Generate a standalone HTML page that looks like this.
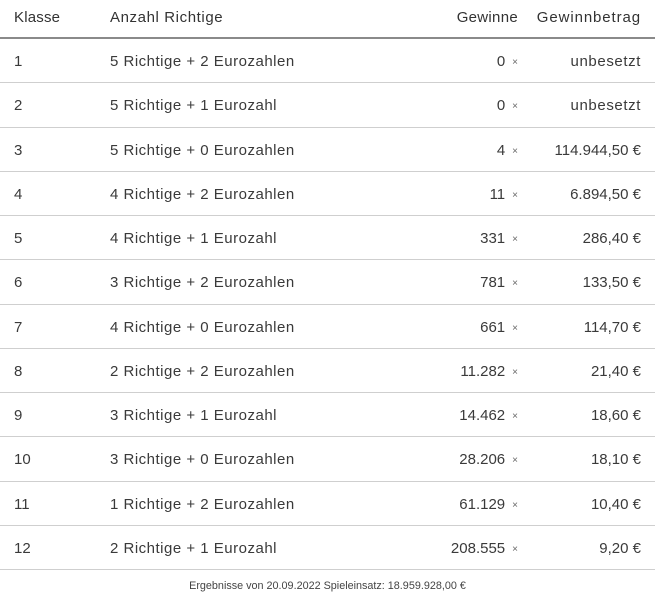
<!DOCTYPE html>
<html><head><meta charset="utf-8">
<style>
html,body{margin:0;padding:0;background:#fff;}
body{width:655px;height:600px;position:relative;overflow:hidden;font-family:"Liberation Sans",sans-serif;color:#3a3a3a;font-size:15px;}
.r{position:absolute;left:0;width:655px;height:44.25px;}
.r .b{position:absolute;left:0;right:0;bottom:0;height:1px;background:#cfcfcf;}
.c{position:absolute;top:2px;line-height:42px;white-space:nowrap;}
.k{left:14px;}
.a{left:110px;letter-spacing:0.5px;}
.g{right:137px;}
.w{right:14px;}
.t{letter-spacing:0.6px;}
.x{font-size:10px;color:#666;margin-left:7px;position:relative;top:-1px;}
.hdr{position:absolute;left:0;top:0;width:655px;height:37px;}
.hdr .c{line-height:34px;color:#333;top:1px;letter-spacing:0.7px;}
.hb{position:absolute;left:0;top:37px;width:655px;height:2px;background:#8a8a8a;}
.foot{position:absolute;left:0;width:655px;top:580px;text-align:center;font-size:10.8px;color:#444;}
</style></head><body>
<div class="hdr">
<div class="c k" style="letter-spacing:0.2px">Klasse</div>
<div class="c a" style="letter-spacing:0.6px">Anzahl Richtige</div>
<div class="c" style="right:137px;letter-spacing:0.3px">Gewinne</div>
<div class="c w" style="letter-spacing:0.9px">Gewinnbetrag</div>
</div>
<div class="hb"></div>

<div class="r" style="top:39px"><div class="c k">1</div><div class="c a">5 Richtige + 2 Eurozahlen</div><div class="c g">0<span class="x">×</span></div><div class="c w t">unbesetzt</div><div class="b"></div></div>
<div class="r" style="top:83.25px"><div class="c k">2</div><div class="c a">5 Richtige + 1 Eurozahl</div><div class="c g">0<span class="x">×</span></div><div class="c w t">unbesetzt</div><div class="b"></div></div>
<div class="r" style="top:127.5px"><div class="c k">3</div><div class="c a">5 Richtige + 0 Eurozahlen</div><div class="c g">4<span class="x">×</span></div><div class="c w">114.944,50 €</div><div class="b"></div></div>
<div class="r" style="top:171.75px"><div class="c k">4</div><div class="c a">4 Richtige + 2 Eurozahlen</div><div class="c g">11<span class="x">×</span></div><div class="c w">6.894,50 €</div><div class="b"></div></div>
<div class="r" style="top:216px"><div class="c k">5</div><div class="c a">4 Richtige + 1 Eurozahl</div><div class="c g">331<span class="x">×</span></div><div class="c w">286,40 €</div><div class="b"></div></div>
<div class="r" style="top:260.25px"><div class="c k">6</div><div class="c a">3 Richtige + 2 Eurozahlen</div><div class="c g">781<span class="x">×</span></div><div class="c w">133,50 €</div><div class="b"></div></div>
<div class="r" style="top:304.5px"><div class="c k">7</div><div class="c a">4 Richtige + 0 Eurozahlen</div><div class="c g">661<span class="x">×</span></div><div class="c w">114,70 €</div><div class="b"></div></div>
<div class="r" style="top:348.75px"><div class="c k">8</div><div class="c a">2 Richtige + 2 Eurozahlen</div><div class="c g">11.282<span class="x">×</span></div><div class="c w">21,40 €</div><div class="b"></div></div>
<div class="r" style="top:393px"><div class="c k">9</div><div class="c a">3 Richtige + 1 Eurozahl</div><div class="c g">14.462<span class="x">×</span></div><div class="c w">18,60 €</div><div class="b"></div></div>
<div class="r" style="top:437.25px"><div class="c k">10</div><div class="c a">3 Richtige + 0 Eurozahlen</div><div class="c g">28.206<span class="x">×</span></div><div class="c w">18,10 €</div><div class="b"></div></div>
<div class="r" style="top:481.5px"><div class="c k">11</div><div class="c a">1 Richtige + 2 Eurozahlen</div><div class="c g">61.129<span class="x">×</span></div><div class="c w">10,40 €</div><div class="b"></div></div>
<div class="r" style="top:525.75px"><div class="c k">12</div><div class="c a">2 Richtige + 1 Eurozahl</div><div class="c g">208.555<span class="x">×</span></div><div class="c w">9,20 €</div><div class="b"></div></div>

<div class="foot">Ergebnisse von 20.09.2022 Spieleinsatz: 18.959.928,00 €</div>
</body></html>
